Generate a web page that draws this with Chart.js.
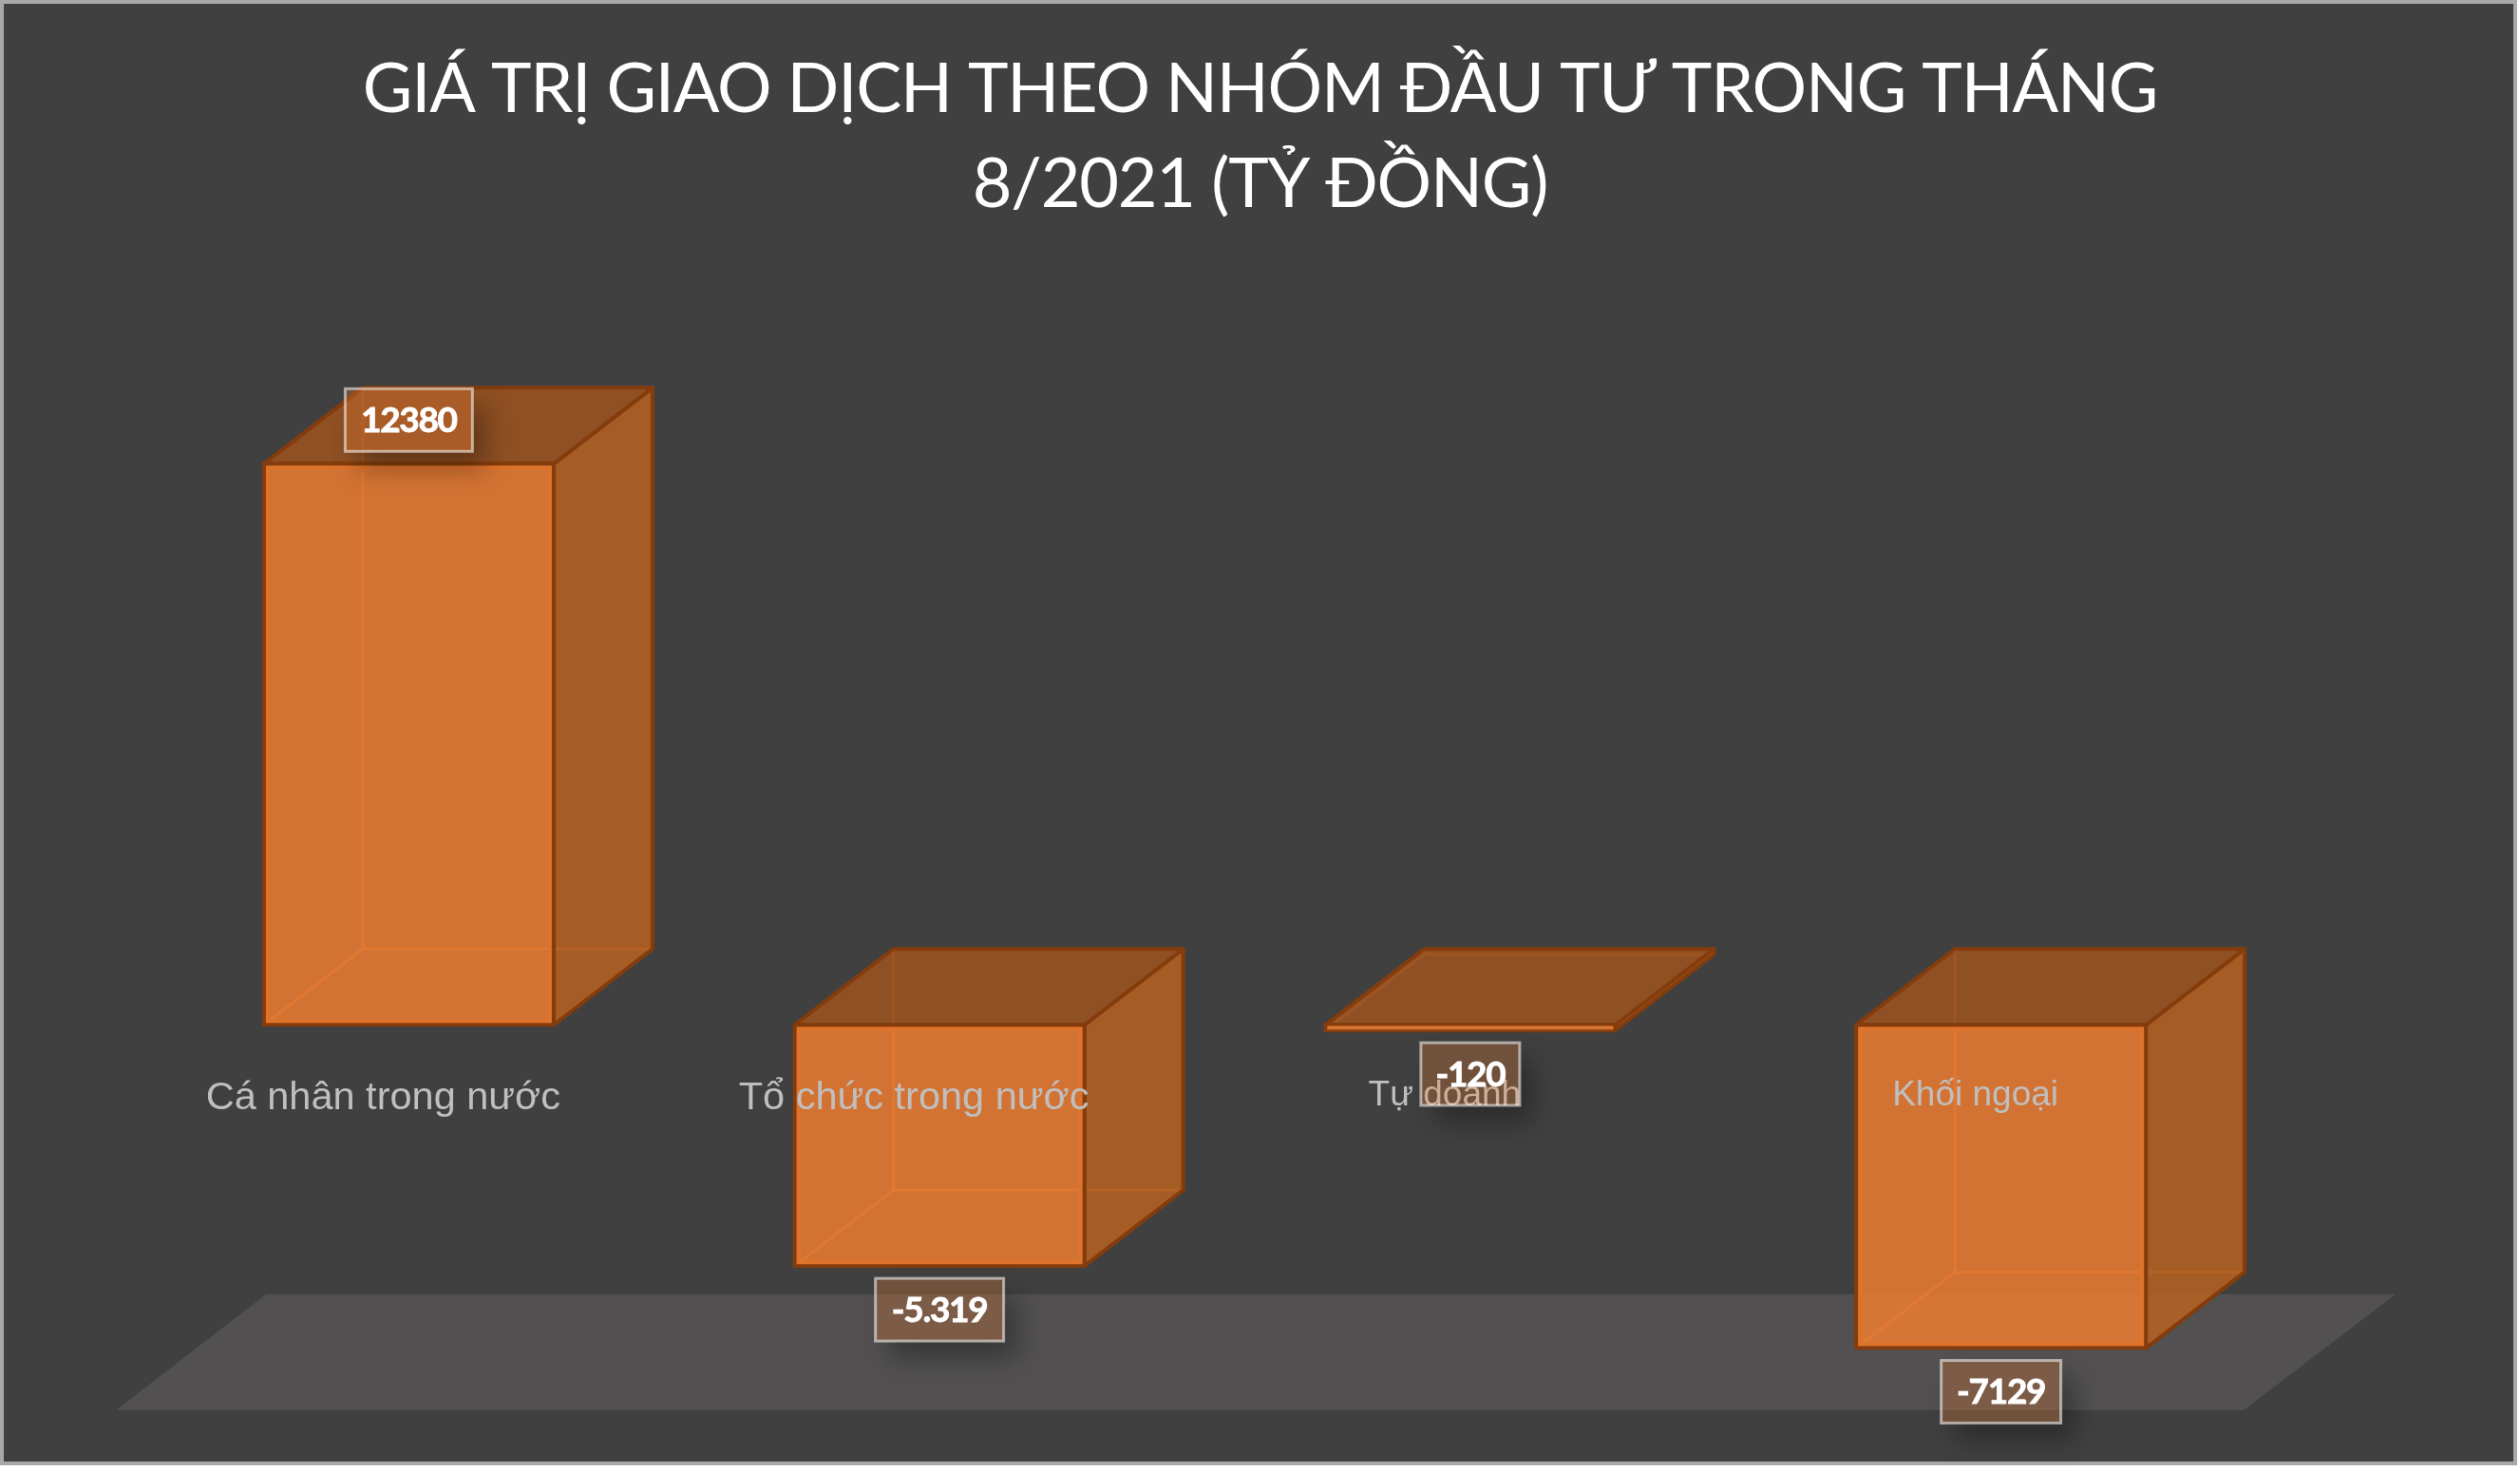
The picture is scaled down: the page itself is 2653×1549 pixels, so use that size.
<!DOCTYPE html>
<html><head><meta charset="utf-8">
<style>html,body{margin:0;padding:0;background:#fff}canvas{display:block}</style>
<script src="https://cdn.jsdelivr.net/npm/chart.js@4"></script>
</head><body><canvas id="c" width="2653" height="1549"></canvas>
<script>
const categories = ["Cá nhân trong nước","Tổ chức trong nước","Tự doanh","Khối ngoại"];
const values = [12380,-5319,-120,-7129];
const valueLabels = ["12380","-5.319","-120","-7129"];
const titleLines = ["GIÁ TRỊ GIAO DỊCH THEO NHÓM ĐẦU TƯ TRONG THÁNG","8/2021 (TỶ ĐỒNG)"];

const DX=104, DY=80;
const scene3d = {
  id:'scene3d',
  beforeDraw(ch){
    const c=ch.ctx; c.save();
    c.fillStyle='#a8a8a8'; c.fillRect(0,0,2650,1543);
    c.fillStyle='#404040'; c.fillRect(4,4,2642,1535);
    c.restore();
    c.letterSpacing='-1.2px';
  },
  beforeDatasetsDraw(ch){
    const c=ch.ctx, a=ch.chartArea; c.letterSpacing='0px'; c.save();
    c.fillStyle='#525050'; c.beginPath();
    c.moveTo(a.left-29,a.bottom); c.lineTo(a.right-24,a.bottom);
    c.lineTo(a.right+136,a.bottom-122); c.lineTo(a.left+129,a.bottom-122); c.closePath(); c.fill();
    c.lineJoin='round';
    ch.getDatasetMeta(0).data.forEach(b=>{
      const l=b.x-b.width/2, r=b.x+b.width/2, t=Math.min(b.y,b.base), u=Math.max(b.y,b.base);
      c.strokeStyle='rgba(237,125,49,.5)'; c.lineWidth=3; c.beginPath();
      c.moveTo(l+DX,t-DY); c.lineTo(l+DX,u-DY); c.lineTo(r+DX,u-DY);
      c.moveTo(l+DX,u-DY); c.lineTo(l,u); c.stroke();
      c.strokeStyle='#843c0c'; c.lineWidth=4;
      c.fillStyle='rgba(184,97,33,.85)'; c.beginPath();
      c.moveTo(r,t); c.lineTo(r+DX,t-DY); c.lineTo(r+DX,u-DY); c.lineTo(r,u); c.closePath(); c.fill(); c.stroke();
      c.fillStyle='rgba(157,83,31,.85)'; c.beginPath();
      c.moveTo(l,t); c.lineTo(l+DX,t-DY); c.lineTo(r+DX,t-DY); c.lineTo(r,t); c.closePath(); c.fill(); c.stroke();
    });
    c.restore();
  },
  afterDraw(ch){
    const c=ch.ctx; c.save();
    ch.getDatasetMeta(0).data.forEach((b,i)=>{
      const txt=valueLabels[i], w=[134,135,104,126][i], h=66;
      const neg=values[i]<0;
      const top=neg? Math.max(b.y,b.base)+13 : Math.min(b.y,b.base)-79;
      const x=b.x-w/2;
      c.save();
      c.beginPath(); c.rect(0,0,2653,1549); c.rect(x,top,w,h); c.clip('evenodd');
      c.shadowColor='rgba(0,0,0,.32)'; c.shadowBlur=28; c.shadowOffsetY=18;
      c.fillStyle='#000'; c.beginPath(); c.rect(x-4000,top,w,h);
      c.shadowOffsetX=4014; c.fill();
      c.restore();
      c.fillStyle='rgba(237,125,49,.28)'; c.fillRect(x,top,w,h);
      c.strokeStyle='rgba(255,255,255,.55)'; c.lineWidth=3; c.strokeRect(x,top,w,h);
      c.fillStyle='#fff'; c.strokeStyle='#fff'; c.lineWidth=.8; c.font='bold 37px Lato'; c.textAlign='center'; c.textBaseline='middle';
      c.letterSpacing='-1.3px';
      c.fillText(txt,x+w/2,top+h/2+1); c.strokeText(txt,x+w/2,top+h/2+1);
    });
    c.restore();
  }
};

new Chart(document.getElementById('c'),{
  type:'bar',
  data:{labels:categories,datasets:[{data:values,backgroundColor:'rgba(237,125,49,.85)',borderColor:'#843c0c',borderWidth:4,inflateAmount:2,borderSkipped:false,barPercentage:.546,categoryPercentage:1}]},
  options:{
    responsive:false,animation:false,devicePixelRatio:1,
    layout:{padding:{left:151,right:151,top:0,bottom:64}},
    plugins:{
      legend:{display:false},tooltip:{enabled:false},
      title:{display:true,text:titleLines,color:'#fff',font:{family:'Lato',size:72,weight:'normal',lineHeight:100/72},padding:{top:45,bottom:166}}
    },
    scales:{
      x:{position:{y:0},grid:{display:false},border:{display:false},
         ticks:{z:1,color:'#bfbfbf',font:(ctx)=>({family:'Liberation Sans',size:ctx.index>1?37:41.5}),padding:44,maxRotation:0,autoSkip:false,labelOffset:-27}},
      y:{position:'right',min:-8500,max:14000,grid:{display:false},border:{display:false},ticks:{display:false},afterFit(s){s.width=116;}}
    }
  },
  plugins:[scene3d]
});
</script></body></html>
